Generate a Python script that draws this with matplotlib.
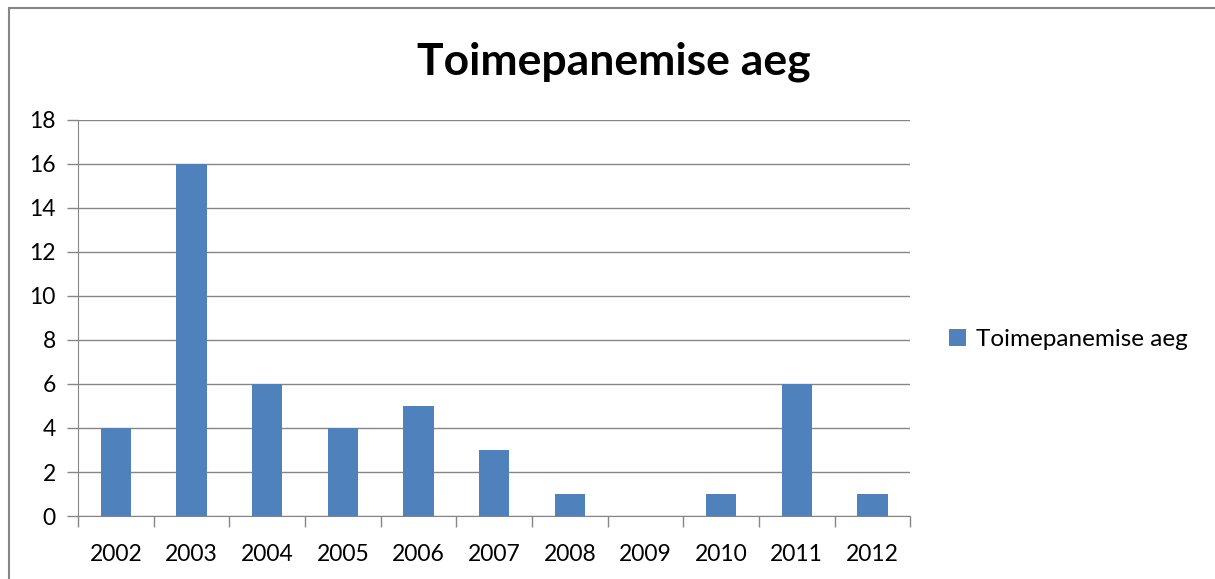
import numpy as np
import matplotlib.pyplot as plt
from matplotlib.patches import Rectangle

plt.rcParams['font.family'] = ['Lato', 'DejaVu Sans']

years = ['2002', '2003', '2004', '2005', '2006', '2007', '2008', '2009', '2010', '2011', '2012']
counts = [4, 16, 6, 4, 5, 3, 1, 0, 1, 6, 1]

fig = plt.figure(figsize=(12.15, 5.79), dpi=100)
ax = fig.add_axes([0.0642, 0.1088, 0.685, 0.684])

# outer chart border (runs off the right and bottom edges)
fig.patches.append(Rectangle((9 / 1215, -0.05), 1.2, 1 - 8 / 579 + 0.05,
                             transform=fig.transFigure, fill=False,
                             edgecolor='#868686', linewidth=1.5))

x = np.arange(len(years))
ax.bar(x, counts, width=0.4, color='#4F81BD', label='Toimepanemise aeg', zorder=3)

ax.set_xlim(-0.5, len(years) - 0.5)
ax.set_ylim(0, 18)
ax.set_yticks(range(0, 19, 2))
ax.yaxis.grid(True, color='#868686', linewidth=1)
ax.set_axisbelow(True)

ax.set_xticks(x)
ax.set_xticklabels(years, fontsize=16.5)
ax.tick_params(axis='x', length=0, pad=20)
ax.set_xticks(np.arange(-0.5, len(years)), minor=True)
ax.tick_params(axis='x', which='minor', length=8, color='#868686', width=1)
ax.tick_params(axis='y', labelsize=16.5, length=8, color='#868686', width=1, pad=8)

for s in ['top', 'right']:
    ax.spines[s].set_visible(False)
for s in ['left', 'bottom']:
    ax.spines[s].set_color('#868686')

fig.text(0.505, 0.893, 'Toimepanemise aeg', ha='center', va='center',
         fontsize=32, fontweight='bold')

fig.legend(loc='center left', bbox_to_anchor=(0.763, 0.413), frameon=False,
           fontsize=17.5, handlelength=0.7, handleheight=0.7, handletextpad=0.4)

fig.savefig('out.png', dpi=100)
